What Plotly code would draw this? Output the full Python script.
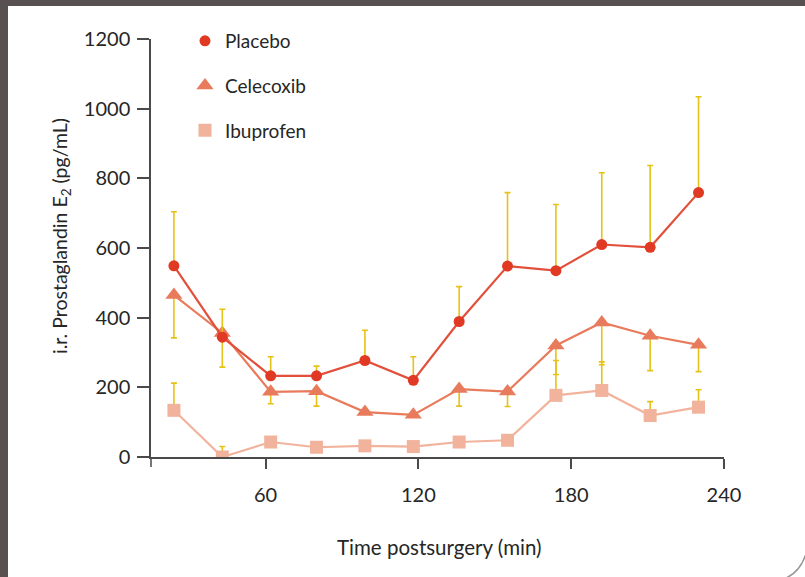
import plotly.graph_objects as go

time_min = [24, 43, 62, 80, 99, 118, 136, 155, 174, 192, 211, 230]

placebo = [549, 344, 233, 233, 277, 220, 389, 548, 535, 610, 602, 759]
placebo_err_up = [155, 80, 55, 28, 87, 68, 100, 211, 190, 206, 235, 275]

celecoxib = [465, 356, 187, 189, 129, 121, 195, 188, 320, 386, 348, 322]
celecoxib_err_down = [123, 98, 34, 43, 0, 0, 49, 43, 83, 121, 100, 77]

ibuprofen = [134, 0, 43, 28, 32, 30, 43, 48, 177, 191, 119, 143]
ibuprofen_err_up = [78, 30, 0, 0, 0, 0, 0, 0, 100, 82, 40, 50]

x_ticks = [60, 120, 180, 240]
y_ticks = [0, 200, 400, 600, 800, 1000, 1200]

names = ["Placebo", "Celecoxib", "Ibuprofen"]
zeros = [0] * len(time_min)

C_PLA = "#e03a24"
C_PLA_LINE = "#e2503c"
C_CEL = "#e87b5b"
C_IBU = "#f2b39c"
C_ERR = "#e6c217"
FONT = "Lato"
TXT = "#262626"

fig = go.Figure()

fig.add_trace(go.Scatter(
    x=time_min, y=ibuprofen, mode="lines+markers", showlegend=False,
    line=dict(color=C_IBU, width=2.2),
    marker=dict(symbol="square", size=13, color=C_IBU),
    error_y=dict(type="data", symmetric=False, array=ibuprofen_err_up, arrayminus=zeros,
                 color=C_ERR, thickness=1.6, width=3),
))
fig.add_trace(go.Scatter(
    x=time_min, y=celecoxib, mode="lines+markers", showlegend=False,
    line=dict(color=C_CEL, width=2.2),
    marker=dict(symbol="triangle-up", size=15, color=C_CEL),
    error_y=dict(type="data", symmetric=False, array=zeros, arrayminus=celecoxib_err_down,
                 color=C_ERR, thickness=1.6, width=3),
))
fig.add_trace(go.Scatter(
    x=time_min, y=placebo, mode="lines+markers", showlegend=False,
    line=dict(color=C_PLA_LINE, width=2.2),
    marker=dict(symbol="circle", size=11, color=C_PLA),
    error_y=dict(type="data", symmetric=False, array=placebo_err_up, arrayminus=zeros,
                 color=C_ERR, thickness=1.6, width=3),
))

# legend-only entries (marker only, as in the reference)
for nm, sym, col, sz in [(names[0], "circle", C_PLA, 11),
                         (names[1], "triangle-up", C_CEL, 15),
                         (names[2], "square", C_IBU, 13)]:
    fig.add_trace(go.Scatter(x=[None], y=[None], mode="markers", name=nm,
                             legendgroup=nm,
                             marker=dict(symbol=sym, size=sz, color=col)))

L, R, T, B = 151, 81, 39, 120
W, H = 805, 577
pw, ph = W - L - R, H - T - B


def px(xp):
    return (xp - L) / pw


def py(yp):
    return (H - B - yp) / ph


axis_col = "#4a4a4a"
fig.update_layout(
    width=W, height=H,
    margin=dict(l=L, r=R, t=T, b=B, pad=0),
    paper_bgcolor="white", plot_bgcolor="white",
    font=dict(family=FONT, size=20, color=TXT),
    xaxis=dict(range=[15, 240], tickvals=x_ticks,
               showgrid=False, zeroline=False, showline=True, linecolor=axis_col,
               linewidth=1.5, ticks="outside", ticklen=10, tickwidth=1.5,
               tickcolor=axis_col, ticklabelstandoff=9,
               tickfont=dict(family=FONT, size=20, color=TXT)),
    yaxis=dict(range=[0, 1200], tickvals=y_ticks,
               showgrid=False, zeroline=False, showline=True, linecolor=axis_col,
               linewidth=1.5, ticks="outside", ticklen=12, tickwidth=1.5,
               tickcolor=axis_col, ticklabelstandoff=3,
               tickfont=dict(family=FONT, size=20, color=TXT)),
    legend=dict(x=px(185), y=py(22), xanchor="left", yanchor="top",
                bgcolor="rgba(0,0,0,0)", tracegroupgap=17,
                font=dict(family=FONT, size=19, color=TXT),
                itemwidth=30),
    showlegend=True,
)

# y-axis line overhang below the x axis (as in the reference)
fig.add_shape(type="line", xref="paper", yref="paper", x0=0, x1=0, y0=0, y1=py(H - B + 10),
              line=dict(color=axis_col, width=1.5), layer="above")

fig.add_annotation(text="i.r. Prostaglandin E<sub>2</sub> (pg/mL)", xref="paper", yref="paper",
                   x=px(61), y=py(236), xanchor="center", yanchor="middle",
                   textangle=-90, showarrow=False,
                   font=dict(family=FONT, size=19.5, color=TXT))
fig.add_annotation(text="Time postsurgery (min)", xref="paper", yref="paper",
                   x=px(439), y=py(547), xanchor="center", yanchor="middle",
                   showarrow=False,
                   font=dict(family=FONT, size=20.5, color=TXT))

# frame decoration (dark border top/left, faint corner arc)
border = "#575251"
fig.add_shape(type="rect", xref="paper", yref="paper", x0=px(0), x1=px(8), y0=py(H), y1=py(0),
              fillcolor=border, line=dict(width=0), layer="above")
fig.add_shape(type="rect", xref="paper", yref="paper", x0=px(0), x1=px(W), y0=py(6), y1=py(0),
              fillcolor=border, line=dict(width=0), layer="above")
fig.add_shape(type="path", xref="paper", yref="paper",
              path=f"M {px(806)},{py(554)} Q {px(800)},{py(572)} {px(786)},{py(578)}",
              line=dict(color="#9a9a9a", width=1.5), layer="above")

fig.write_html("out.html")
